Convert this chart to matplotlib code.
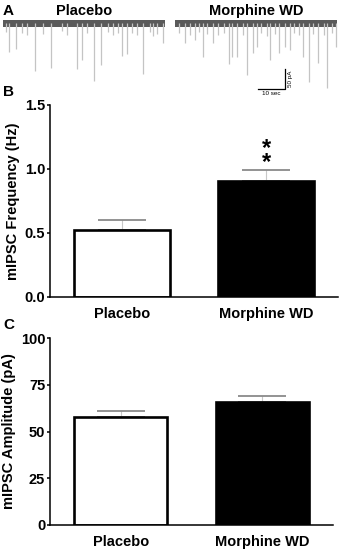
import numpy as np
import matplotlib
matplotlib.use('Agg')
import matplotlib.pyplot as plt
from matplotlib.ticker import FormatStrFormatter

plt.rcParams['font.family'] = ['Liberation Sans', 'DejaVu Sans']
plt.rcParams['font.weight'] = 'bold'
plt.rcParams['axes.labelweight'] = 'bold'

# ---- data ----
groups = ['Placebo', 'Morphine WD']
freq_mean = [0.52, 0.91]
freq_sem = [0.08, 0.08]
amp_mean = [58, 66]
amp_sem = [3, 3]
freq_ticks = [0.0, 0.5, 1.0, 1.5]
amp_ticks = [0, 25, 50, 75, 100]

# example traces: event time (s) and amplitude (pA)
placebo_t = [1.1, 2.2, 4.8, 7.0, 8.9, 11.9, 14.8, 17.7, 21.9, 23.7, 27.3, 29.1,
             31.1, 33.7, 36.2, 38.9, 40.7, 42.6, 44.1, 45.8, 47.8, 49.6, 51.9,
             54.4, 55.6, 57.0, 59.1]
placebo_amp = [22, 72, 65, 25, 30, 120, 28, 112, 20, 30, 115, 92,
               25, 144, 105, 22, 30, 26, 82, 78, 24, 30, 128,
               22, 32, 28, 50]
morphine_t = [1.5, 3.7, 5.5, 7.4, 9.0, 10.4, 12.0, 14.1, 16.0, 18.0, 20.0, 21.1,
              23.0, 25.0, 26.7, 28.9, 30.4, 32.0, 34.0, 35.2, 37.0, 38.5, 40.7,
              42.6, 44.0, 46.0, 47.4, 49.6, 51.0, 53.0, 55.0, 56.3, 58.0, 59.6]
morphine_amp = [25, 50, 30, 42, 22, 85, 28, 50, 30, 24, 102, 85,
                85, 30, 130, 75, 60, 25, 32, 92, 28, 75, 60,
                68, 26, 30, 85, 148, 28, 100, 30, 162, 25, 60]
trace_len = 60.0
morphine_offset = 63.7

fig = plt.figure(figsize=(3.4, 5.49), dpi=100)
W, H = 340.0, 549.0

# ---- panel A: traces ----
axt = fig.add_axes([0, 1 - 100 / H, 1, 90 / H])
axt.set_xlim(-1.1, 124.8)
axt.set_ylim(-192.5, 32.5)
axt.axis('off')
for off, ts, amps in [(0, placebo_t, placebo_amp),
                      (morphine_offset, morphine_t, morphine_amp)]:
    axt.vlines(np.array(ts) + off, -np.array(amps), 0, color='#c4c4c4', lw=0.9)
    axt.fill_between([off, off + trace_len], -9, 7, color='#5a5a5a', lw=0)
axt.text(trace_len / 2, 30, 'Placebo', ha='center', va='center', fontsize=10.5)
axt.text(morphine_offset + trace_len / 2, 30, 'Morphine WD', ha='center',
         va='center', fontsize=10.5)
# scale bar 10 s / 50 pA
sx, sy = 104.5, -165
axt.plot([sx - 10, sx, sx], [sy, sy, sy + 50], color='black', lw=0.9)
axt.text(sx - 5, sy - 4, '10 sec', ha='center', va='top', fontsize=4.5,
         fontweight='normal')
axt.text(sx + 1.2, sy + 25, '50 pA', ha='left', va='center', rotation=90,
         fontsize=4.5, fontweight='normal')


def bar_panel(ax, means, sems, ticks, ylabel):
    x = np.arange(len(groups))
    ax.bar(x, means, width=0.66, color=['white', 'black'], edgecolor='black',
           linewidth=1.9, zorder=2)
    _, caps, bars = ax.errorbar(x, means, yerr=[[0, 0], sems], fmt='none',
                                ecolor='#808080', elinewidth=0.8, capsize=17,
                                capthick=1.2, zorder=1)
    for b in bars:
        b.set_color('#c8c8c8')
    ax.set_xlim(-0.5, 1.5)
    ax.set_ylim(ticks[0], ticks[-1])
    ax.set_yticks(ticks)
    ax.set_xticks(x)
    ax.set_xticklabels(groups, fontsize=10.5, fontweight='bold')
    ax.tick_params(axis='x', length=0, pad=7)
    ax.tick_params(axis='y', length=2.5, width=1.1, pad=1, labelsize=10.5)
    for t in ax.get_yticklabels():
        t.set_fontweight('bold')
    for s in ['top', 'right']:
        ax.spines[s].set_visible(False)
    for s in ['left', 'bottom']:
        ax.spines[s].set_linewidth(1.1)
    ax.set_ylabel(ylabel, fontsize=10.5, fontweight='bold', labelpad=3)


axb = fig.add_axes([50 / W, 1 - 297 / H, 288 / W, 192 / H])
axb.yaxis.set_major_formatter(FormatStrFormatter('%.1f'))
bar_panel(axb, freq_mean, freq_sem, freq_ticks, 'mIPSC Frequency (Hz)')
axb.annotate('*\n*', (1, freq_mean[1] + freq_sem[1]), xytext=(0, -3),
             textcoords='offset points', ha='center', va='bottom',
             fontsize=17, linespacing=0.55)

axc = fig.add_axes([50 / W, 1 - 525 / H, 283 / W, 187 / H])
bar_panel(axc, amp_mean, amp_sem, amp_ticks, 'mIPSC Amplitude (pA)')

for lab, y in [('A', 11), ('B', 92), ('C', 325)]:
    fig.text(3 / W, 1 - y / H, lab, ha='left', va='center', fontsize=11)

fig.savefig('out.png', dpi=100)
